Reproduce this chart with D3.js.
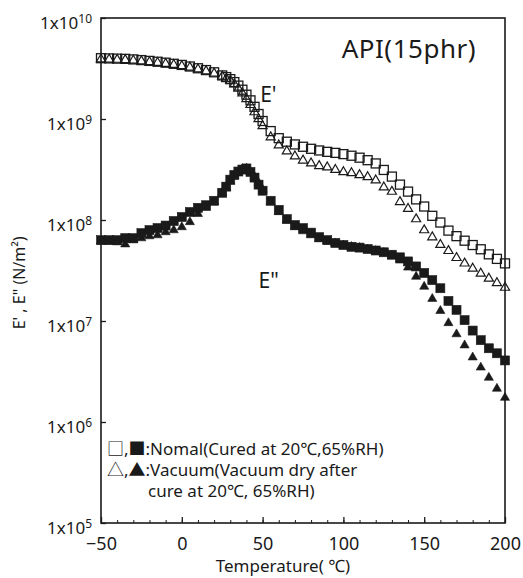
<!DOCTYPE html>
<html>
<head>
<meta charset="utf-8">
<script src="https://cdn.jsdelivr.net/npm/d3@7"></script>
<style>
  body { margin: 0; background: #fff; }
  svg text { font-family: "Noto Sans", "Noto Sans CJK JP", "DejaVu Sans", sans-serif; fill: #1a1a1a; }
</style>
</head>
<body>
<div id="chart"></div>
<script>
// temperatures (°C) shared by all four series
const temps = [-50,-45,-40,-35,-30,-25,-20,-15,-10,-5,0,5,10,15,20,25,27.5,30,32.5,35,37.5,40,42.5,45,47.5,50,
  55,60,65,70,75,80,85,90,95,100,105,110,115,120,125,130,135,140,145,150,155,160,165,170,175,180,185,190,195,200];

// E' Nomal (open squares)
const eStorageNomal = [4.00e9,3.98e9,3.96e9,3.94e9,3.89e9,3.83e9,3.76e9,3.69e9,3.61e9,3.52e9,3.43e9,3.31e9,3.18e9,3.05e9,2.90e9,2.70e9,
  2.60e9,2.48e9,2.32e9,2.14e9,1.95e9,1.74e9,1.53e9,1.32e9,1.12e9,9.55e8,
  7.59e8,6.46e8,5.96e8,5.60e8,5.31e8,5.07e8,4.88e8,4.73e8,4.62e8,4.49e8,4.33e8,4.14e8,3.91e8,3.63e8,3.13e8,2.69e8,2.24e8,1.91e8,
  1.60e8,1.36e8,1.10e8,9.44e7,7.85e7,6.92e7,6.24e7,5.65e7,5.13e7,4.57e7,4.12e7,3.72e7];

// E' Vacuum (open triangles)
const eStorageVacuum = [3.91e9,3.89e9,3.87e9,3.85e9,3.80e9,3.74e9,3.67e9,3.61e9,3.53e9,3.44e9,3.35e9,3.24e9,3.11e9,2.98e9,2.83e9,2.64e9,
  2.51e9,2.40e9,2.21e9,2.00e9,1.80e9,1.58e9,1.38e9,1.17e9,1.00e9,8.51e8,
  6.61e8,5.50e8,4.79e8,4.27e8,3.89e8,3.65e8,3.43e8,3.33e8,3.14e8,2.99e8,2.92e8,2.79e8,2.66e8,2.47e8,2.11e8,1.91e8,1.51e8,1.29e8,
  1.02e8,7.94e7,6.76e7,5.69e7,4.95e7,4.22e7,3.72e7,3.31e7,2.95e7,2.63e7,2.38e7,2.14e7];

// E'' Nomal (filled squares)
const eLossNomal = [6.31e7,6.31e7,6.31e7,6.61e7,6.61e7,7.41e7,7.94e7,8.32e7,8.81e7,9.77e7,1.07e8,1.20e8,1.32e8,1.40e8,1.55e8,1.86e8,
  2.14e8,2.51e8,2.79e8,3.02e8,3.16e8,3.24e8,2.99e8,2.63e8,2.24e8,1.95e8,
  1.55e8,1.26e8,1.02e8,8.91e7,8.32e7,7.50e7,6.76e7,6.31e7,5.92e7,5.65e7,5.43e7,5.33e7,5.16e7,4.99e7,4.79e7,4.53e7,4.27e7,3.89e7,
  3.47e7,2.99e7,2.54e7,2.11e7,1.58e7,1.29e7,1.02e7,8.04e6,6.46e6,5.37e6,4.79e6,4.07e6];

// E'' Vacuum (filled triangles)
const eLossVacuum = [6.17e7,6.17e7,6.03e7,5.75e7,6.31e7,6.61e7,6.92e7,7.08e7,7.59e7,7.94e7,8.51e7,9.55e7,1.15e8,1.32e8,1.51e8,1.86e8,
  2.09e8,2.40e8,2.75e8,3.02e8,3.20e8,3.24e8,2.99e8,2.69e8,2.34e8,2.00e8,
  1.51e8,1.20e8,1.00e8,8.51e7,7.76e7,7.08e7,6.46e7,6.17e7,5.89e7,5.62e7,5.43e7,5.31e7,5.13e7,4.95e7,4.73e7,4.42e7,3.98e7,3.39e7,
  2.75e7,2.19e7,1.66e7,1.26e7,9.55e6,7.41e6,5.75e6,4.37e6,3.47e6,2.75e6,2.14e6,1.74e6];

// axis ticks
const xTicks = [-50, 0, 50, 100, 150, 200];
const xMinorTicks = d3.range(-50, 201, 10);
const yTicks = [1e5, 1e6, 1e7, 1e8, 1e9, 1e10];
const yExponents = ["5", "6", "7", "8", "9", "10"];

const legendLines = [
  "\u25A1,\u25A0:Nomal(Cured at 20\u2103,65%RH)",
  "\u25B3,\u25B2:Vacuum(Vacuum dry after",
  "cure at 20\u2103, 65%RH)"
];

const W = 523, H = 578;
const margin = {top: 18, right: 18, bottom: 55, left: 101};
const width = W - margin.left - margin.right,
      height = H - margin.top - margin.bottom;

const svg = d3.select("#chart").append("svg")
  .attr("width", W).attr("height", H)
  .append("g")
  .attr("transform", `translate(${margin.left},${margin.top})`);

const x = d3.scaleLinear().domain([-50, 200]).range([0, width]);
const y = d3.scaleLog().domain([1e5, 1e10]).range([height, 0]);

const ink = "#1a1a1a";

// minor x ticks
svg.append("g")
  .attr("transform", `translate(0,${height})`)
  .call(d3.axisBottom(x).tickValues(xMinorTicks).tickSizeInner(-3).tickSizeOuter(0).tickFormat(""))
  .call(g => g.select(".domain").remove())
  .call(g => g.selectAll("line").attr("stroke", ink).attr("stroke-width", 1));

// major x ticks
svg.append("g")
  .attr("transform", `translate(0,${height})`)
  .call(d3.axisBottom(x).tickValues(xTicks).tickSizeInner(-6).tickSizeOuter(0).tickPadding(14))
  .call(g => g.select(".domain").remove())
  .call(g => g.selectAll("line").attr("stroke", ink).attr("stroke-width", 1.3))
  .call(g => g.selectAll("text").style("font-size", "18px").attr("fill", ink));

// y axis with 1x10^n labels
const yAxis = svg.append("g")
  .call(d3.axisLeft(y).tickValues(yTicks).tickSizeInner(-5).tickSizeOuter(0).tickPadding(9).tickFormat(""))
  .call(g => g.select(".domain").remove())
  .call(g => g.selectAll("line").attr("stroke", ink).attr("stroke-width", 1.3));

yAxis.selectAll(".tick text")
  .style("font-size", "17px")
  .attr("dy", "0.62em")
  .each(function(d, i) {
    const t = d3.select(this);
    t.append("tspan").text("1x10");
    t.append("tspan").attr("dy", "-0.5em").style("font-size", "12px").text(yExponents[i]);
  });

// frame
svg.append("rect")
  .attr("width", width).attr("height", height)
  .attr("fill", "none").attr("stroke", ink).attr("stroke-width", 1.6);

// markers
const sq = 9;
const tri = d3.symbol().type(d3.symbolTriangle).size(36);

function drawSquares(values, filled) {
  svg.append("g").selectAll("rect")
    .data(temps.map((t, i) => [t, values[i]]))
    .join("rect")
      .attr("x", d => x(d[0]) - sq / 2)
      .attr("y", d => y(d[1]) - sq / 2)
      .attr("width", sq).attr("height", sq)
      .attr("fill", filled ? ink : "none")
      .attr("stroke", ink)
      .attr("stroke-width", filled ? 0.6 : 1.3);
}
function drawTriangles(values, filled) {
  svg.append("g").selectAll("path")
    .data(temps.map((t, i) => [t, values[i]]))
    .join("path")
      .attr("d", tri)
      .attr("transform", d => `translate(${x(d[0])},${y(d[1])})`)
      .attr("fill", filled ? ink : "none")
      .attr("stroke", ink)
      .attr("stroke-width", filled ? 0.6 : 1.2);
}

drawTriangles(eStorageVacuum, false);
drawSquares(eStorageNomal, false);
drawTriangles(eLossVacuum, true);
drawSquares(eLossNomal, true);

// curve labels
svg.append("text").attr("x", x(48.5)).attr("y", y(1.47e9)).style("font-size", "21px").text("E'");
svg.append("text").attr("x", x(47.5)).attr("y", y(2.12e7)).style("font-size", "21px").text("E\"");

// title
svg.append("text").attr("x", width - 29).attr("y", 40)
  .attr("text-anchor", "end").style("font-size", "26px").style("letter-spacing", "0.5px")
  .text("API(15phr)");

// legend
svg.append("g").selectAll("text")
  .data(legendLines)
  .join("text")
    .attr("x", (d, i) => i === 2 ? 47 : 6)
    .attr("y", (d, i) => 437 + i * 21)
    .style("font-size", "17px")
    .text(d => d);

// axis titles
svg.append("text")
  .attr("x", x(75) - 20).attr("y", height + 49)
  .attr("text-anchor", "middle").style("font-size", "17px")
  .text("Temperature( \u2103)");

svg.append("text")
  .attr("transform", `translate(${-76},${y(3e7) + 10}) rotate(-90)`)
  .attr("text-anchor", "middle").style("font-size", "16px")
  .text("E' , E\" (N/m\u00B2)");
</script>
</body>
</html>
